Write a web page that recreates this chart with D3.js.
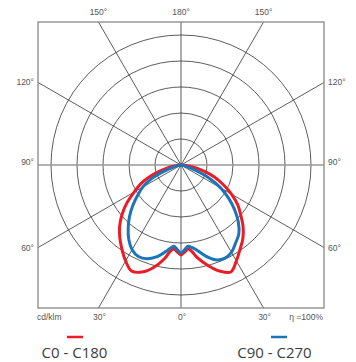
<!DOCTYPE html>
<html><head><meta charset="utf-8">
<script src="https://cdn.jsdelivr.net/npm/d3@7"></script>
<style>body{margin:0;background:#fff;} svg{display:block;}</style>
</head><body>
<script>
// gamma angles from nadir (negative = left half), degrees
const angles = [-90,-85,-80,-75,-70,-65,-60,-55,-50,-45,-40,-35,-30,-25,-20,-15,-10,-7.5,-5,-2.5,0,2.5,5,7.5,10,15,20,25,30,35,40,45,50,55,60,65,70,75,80,85,90];
// C0 - C180 (cd/klm)
const c0c180 = [0,8,21,38,62,85,104,127,148,167,183,198,213,225,219,204,183,169,162,167,173,167,162,169,181,200,217,227,213,198,185,169,150,133,112,90,69,46,25,10,0];
// C90 - C270 (cd/klm)
const c90c270 = [0,1,4,12,33,63,85,102,121,140,158,175,188,194,192,183,169,162,157,163,169,163,157,160,165,181,194,198,194,183,173,156,135,112,88,60,29,10,4,1,0];
const rings = [50,100,150,200,250];
const spokes = [0,30,60,90,120,150,180,210,240,270,300,330];
const topLabels = ["150°","180°","150°"];
const sideLabels = ["120°","90°","60°"];
const bottomLabels = ["30°","0°","30°"];
const seriesNames = ["C0 - C180","C90 - C270"];
const seriesColors = ["#ed1c24","#1b75bb"];

const W=356,H=362, cx=181, cy=165, half=143;
const svg=d3.select("body").append("svg").attr("width",W).attr("height",H);
const r=d3.scaleLinear().domain([0,250]).range([0,130]);
const g=svg.append("g").attr("transform",`translate(${cx},${cy})`);

svg.append("clipPath").attr("id","frame").append("rect")
  .attr("x",-half).attr("y",-half).attr("width",2*half).attr("height",2*half);

// rings
g.selectAll("circle.ring").data(rings).join("circle")
  .attr("r",d=>r(d)).attr("fill","none").attr("stroke","#333").attr("stroke-width",0.8);

// spokes (angle from nadir, clockwise towards right)
const spokeG=g.append("g").attr("clip-path","url(#frame)");
spokeG.selectAll("line").data(spokes.filter(a=>a!==90&&a!==270)).join("line")
  .attr("x1",0).attr("y1",0)
  .attr("x2",a=>400*Math.sin(a*Math.PI/180))
  .attr("y2",a=>400*Math.cos(a*Math.PI/180))
  .attr("stroke","#333").attr("stroke-width",0.8);
// horizontal 90° line (grey)
spokeG.append("line").attr("x1",-half).attr("x2",half).attr("y1",0).attr("y2",0)
  .attr("stroke","#999").attr("stroke-width",1.6);

// frame
g.append("rect").attr("x",-half).attr("y",-half).attr("width",2*half).attr("height",2*half)
  .attr("fill","none").attr("stroke","#888").attr("stroke-width",1.3);

// curves
const line=d3.lineRadial().curve(d3.curveCatmullRom.alpha(0.5))
  .angle(d=>Math.PI - d[0]*Math.PI/180).radius(d=>r(d[1]));
[c0c180,c90c270].forEach((vals,i)=>{
  g.append("path").datum(angles.map((a,j)=>[a,vals[j]]))
    .attr("d",line).attr("fill","none").attr("stroke",seriesColors[i])
    .attr("stroke-width",3).attr("stroke-linejoin","round");
});

// labels
const t30=half*Math.tan(Math.PI/6);
const lab=(x,y,t,anchor)=>svg.append("text").attr("x",x).attr("y",y).text(t)
  .attr("text-anchor",anchor).attr("font-family","Liberation Sans, Arial, sans-serif")
  .attr("font-size",8.5).attr("fill","#555");
[-t30,0,t30].forEach((dx,i)=>lab(cx+dx,15,topLabels[i],"middle"));
[-t30+3,0,t30+3].forEach((dy,i)=>{
  lab(cx-half-4,cy+dy,sideLabels[i],"end");
  lab(cx+half+4,cy+dy,sideLabels[i],"start");
});
[-t30,0,t30].forEach((dx,i)=>lab(cx+dx+1,320,bottomLabels[i],"middle"));
lab(37,320,"cd/klm","start");
lab(323,320,"η =100%","end");

// legend
const legX=[75,279], legTX=[74.5,274.5];
seriesNames.forEach((n,i)=>{
  svg.append("line").attr("x1",legX[i]-8).attr("x2",legX[i]+8).attr("y1",337).attr("y2",337)
    .attr("stroke",seriesColors[i]).attr("stroke-width",2.5);
  svg.append("text").attr("x",legTX[i]).attr("y",358).text(n).attr("text-anchor","middle")
    .attr("font-family","Open Sans, sans-serif").attr("font-size",15).attr("fill","#3d3d3d");
});
</script>
</body></html>
